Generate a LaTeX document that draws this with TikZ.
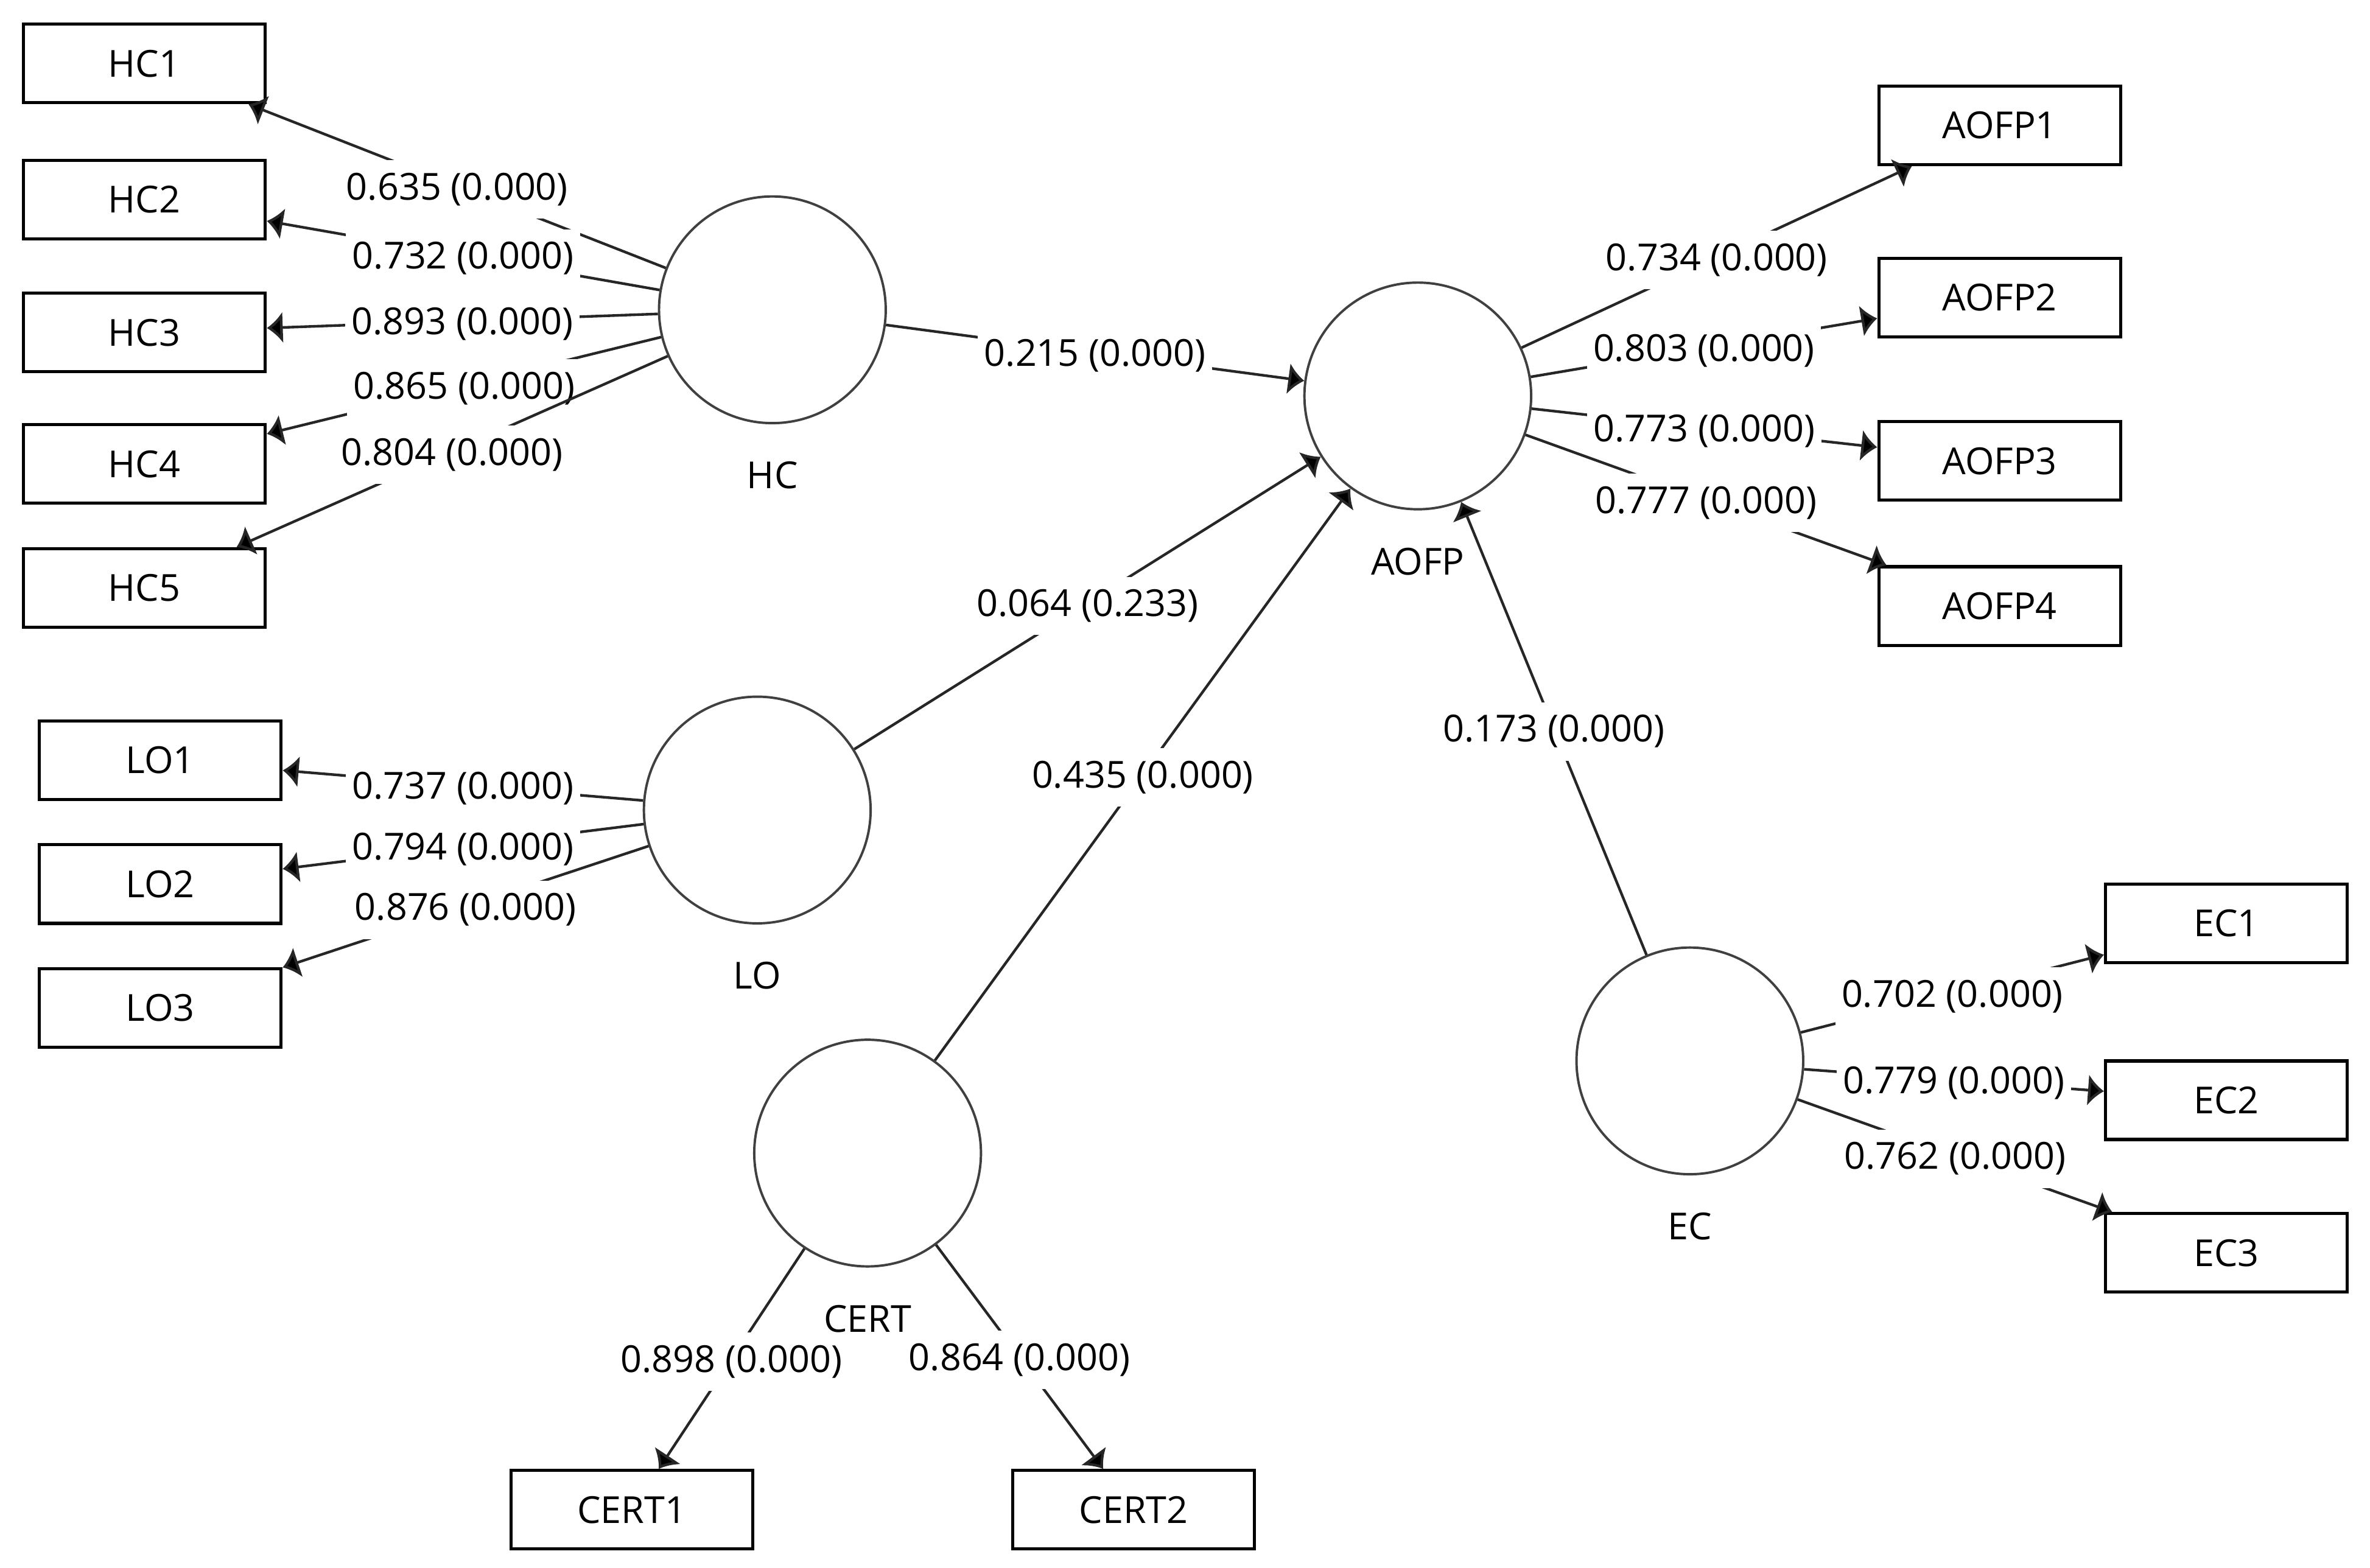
\documentclass[tikz,border=0pt]{standalone}
\usepackage{fontspec}
\setmainfont{Open Sans}
\usetikzlibrary{arrows.meta,positioning}

\begin{document}
\begin{tikzpicture}
\tikzstyle{latent}=[circle, minimum size=15mm, inner sep=0pt, draw=black!75, line width=0.45pt]
\tikzstyle{sqr}=[rectangle, draw=black, line width=0.6pt, minimum width=16mm, minimum height=5.2mm, font=\fontsize{7}{8}\selectfont]
\tikzstyle{connect}=[-{Latex[length=1.05mm,width=2.1mm,fill=black]}, draw=black!85, line width=0.5pt]
\tikzstyle{coef}=[fill=white, inner xsep=1.2pt, inner ysep=2.4pt, yshift=-0.2mm, font=\fontsize{7}{8}\selectfont]
\tikzstyle{lname}=[inner sep=0pt, font=\fontsize{7}{8}\selectfont]
\useasboundingbox (0,0) rectangle (15.68,-10.375);
% 1. Constructs
%%%%%%%%%%%%%%%
\node[latent] (HC) at (5.11,-2.05) {};
\node[latent] (AOFP) at (9.38,-2.62) {};
\node[latent] (LO) at (5.01,-5.36) {};
\node[latent] (CERT) at (5.74,-7.63) {};
\node[latent] (EC) at (11.18,-7.02) {};
% 2. Indicators
%%%%%%%%%%%%%%%
\node[sqr] (HC1) at (0.955,-0.42) {HC1};
\node[sqr] (HC2) at (0.955,-1.32) {HC2};
\node[sqr] (HC3) at (0.955,-2.20) {HC3};
\node[sqr] (HC4) at (0.955,-3.07) {HC4};
\node[sqr] (HC5) at (0.955,-3.89) {HC5};
\node[sqr] (LO1) at (1.06,-5.03) {LO1};
\node[sqr] (LO2) at (1.06,-5.85) {LO2};
\node[sqr] (LO3) at (1.06,-6.67) {LO3};
\node[sqr] (CERT1) at (4.18,-9.99) {CERT1};
\node[sqr] (CERT2) at (7.50,-9.99) {CERT2};
\node[sqr] (AOFP1) at (13.23,-0.83) {AOFP1};
\node[sqr] (AOFP2) at (13.23,-1.97) {AOFP2};
\node[sqr] (AOFP3) at (13.23,-3.05) {AOFP3};
\node[sqr] (AOFP4) at (13.23,-4.01) {AOFP4};
\node[sqr] (EC1) at (14.73,-6.11) {EC1};
\node[sqr] (EC2) at (14.73,-7.28) {EC2};
\node[sqr] (EC3) at (14.73,-8.29) {EC3};
% 3. Arrows
%%%%%%%%%%%
\path (HC)   edge [connect] node[coef] {0.635 (0.000)} (HC1)
      (HC)   edge [connect] node[coef] {0.732 (0.000)} (HC2)
      (HC)   edge [connect] node[coef] {0.893 (0.000)} (HC3)
      (HC)   edge [connect] node[coef] {0.865 (0.000)} (HC4)
      (HC)   edge [connect] node[coef] {0.804 (0.000)} (HC5)
      (LO)   edge [connect] node[coef] {0.737 (0.000)} (LO1)
      (LO)   edge [connect] node[coef] {0.794 (0.000)} (LO2)
      (LO)   edge [connect] node[coef] {0.876 (0.000)} (LO3)
      (CERT) edge [connect] node[coef] {0.898 (0.000)} (CERT1)
      (CERT) edge [connect] node[coef] {0.864 (0.000)} (CERT2)
      (AOFP) edge [connect] node[coef] {0.734 (0.000)} (AOFP1)
      (AOFP) edge [connect] node[coef] {0.803 (0.000)} (AOFP2)
      (AOFP) edge [connect] node[coef] {0.773 (0.000)} (AOFP3)
      (AOFP) edge [connect] node[coef] {0.777 (0.000)} (AOFP4)
      (EC)   edge [connect] node[coef] {0.702 (0.000)} (EC1)
      (EC)   edge [connect] node[coef] {0.779 (0.000)} (EC2)
      (EC)   edge [connect] node[coef] {0.762 (0.000)} (EC3);
\path (HC)   edge [connect] node[coef] {0.215 (0.000)} (AOFP)
      (LO)   edge [connect] node[coef] {0.064 (0.233)} (AOFP)
      (CERT) edge [connect] node[coef] {0.435 (0.000)} (AOFP)
      (EC)   edge [connect] node[coef] {0.173 (0.000)} (AOFP);
% 4. Construct names
%%%%%%%%%%%%%%%%%%%%
\node[lname, below=2.4mm of HC] (HCname) {HC};
\node[lname, below=2.4mm of AOFP] (AOFPname) {AOFP};
\node[lname, below=2.4mm of LO] (LOname) {LO};
\node[lname, below=2.4mm of CERT] (CERTname) {CERT};
\node[lname, below=2.4mm of EC] (ECname) {EC};

\end{tikzpicture}
\end{document}
